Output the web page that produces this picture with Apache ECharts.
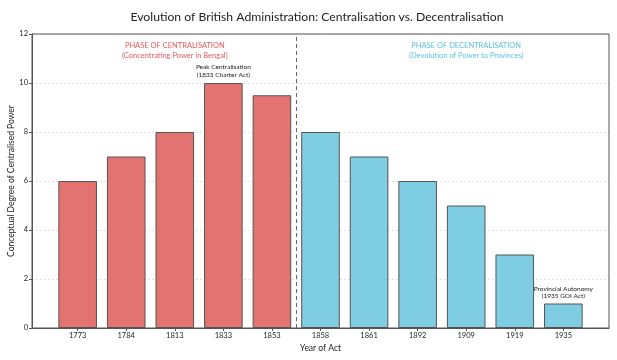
<!DOCTYPE html>
<html><head><meta charset="utf-8">
<script src="https://cdn.jsdelivr.net/npm/echarts@6/dist/echarts.min.js"></script>
<style>html,body{margin:0;padding:0;background:#fff}#c{width:617px;height:360px}</style>
</head><body><div id="c"></div>
<script>
const years = ['1773','1784','1813','1833','1853','1858','1861','1892','1909','1919','1935'];
const values = [6,7,8,10,9.5,8,7,6,5,3,1];
const centralCount = 5;
const redColor = '#E27371';
const blueColor = '#7ECDE3';
const FONT = 'Lato';

const chart = echarts.init(document.getElementById('c'), null, {renderer:'canvas'});
const barData = values.map((v,i)=>({value:[i,v], itemStyle:{color: i<centralCount? redColor: blueColor}}));
const idx = years.map((_,i)=>i);

chart.setOption({
  animation:false,
  textStyle:{fontFamily:FONT},
  title:{text:'Evolution of British Administration: Centralisation vs. Decentralisation',
    left:312, top:6, textAlign:'center',
    textStyle:{fontFamily:FONT,fontSize:12.2,fontWeight:'normal',color:'#222'}},
  grid:{left:32,right:8,top:34,bottom:32,outerBoundsMode:'none',containLabel:false},
  xAxis:{type:'value', min:-0.94, max:10.94,
    name:'Year of Act', nameLocation:'middle', nameGap:16, nameMoveOverlap:false,
    nameTextStyle:{fontFamily:FONT,fontSize:8.5,color:'#222'},
    axisLine:{show:true,onZero:false,lineStyle:{color:'#555',width:1}},
    axisTick:{show:true,length:3,customValues:idx,lineStyle:{color:'#555'}},
    axisLabel:{customValues:idx,fontSize:7.5,color:'#222',margin:4,fontFamily:FONT,
      formatter:(v)=>years[Math.round(v)]},
    splitLine:{show:false}},
  yAxis:{type:'value',min:0,max:12,interval:2,
    name:'Conceptual Degree of Centralised Power', nameLocation:'middle', nameGap:16, nameMoveOverlap:false,
    nameTextStyle:{fontFamily:FONT,fontSize:8.5,color:'#222'},
    axisLine:{show:true,onZero:false,lineStyle:{color:'#555',width:1}},
    axisTick:{show:true,length:3,lineStyle:{color:'#555'}},
    axisLabel:{fontSize:7.5,color:'#222',margin:4,fontFamily:FONT},
    splitLine:{show:true,lineStyle:{color:'#d8d8d8',type:[2,2],width:0.8}}},
  series:[
    {type:'bar', data:barData, barWidth:38.6,
     itemStyle:{borderColor:'#555',borderWidth:1},
     markLine:{symbol:'none',silent:true,label:{show:false},
       lineStyle:{color:'#666',type:[4,3],width:1},
       data:[{xAxis:4.5}]},
     markPoint:{symbol:'circle',symbolSize:0,silent:true,
       data:[
         {coord:[2,11.33],label:{show:true,position:'inside',
           formatter:'PHASE OF CENTRALISATION\n(Concentrating Power in Bengal)',
           color:'#E8595A',fontSize:7.5,lineHeight:9.5,align:'center',fontFamily:FONT}},
         {coord:[8,11.33],label:{show:true,position:'inside',
           formatter:'PHASE OF DECENTRALISATION\n(Devolution of Power to Provinces)',
           color:'#5BC2E2',fontSize:7.5,lineHeight:9.5,align:'center',fontFamily:FONT}},
         {coord:[3,values[3]],label:{show:true,position:'inside',offset:[0,-12],
           formatter:'Peak Centralisation\n(1833 Charter Act)',
           color:'#222',fontSize:6.5,lineHeight:7.5,align:'center',fontFamily:FONT}},
         {coord:[10,values[10]],label:{show:true,position:'inside',offset:[0,-11],
           formatter:'Provincial Autonomy\n(1935 GOI Act)',
           color:'#222',fontSize:6.5,lineHeight:7.5,align:'center',fontFamily:FONT}}
       ]}}
  ],
  graphic:[{type:'rect',shape:{x:32,y:34,width:577,height:294},
    style:{fill:'none',stroke:'#555',lineWidth:1},silent:true,z:10}]
});
</script></body></html>
